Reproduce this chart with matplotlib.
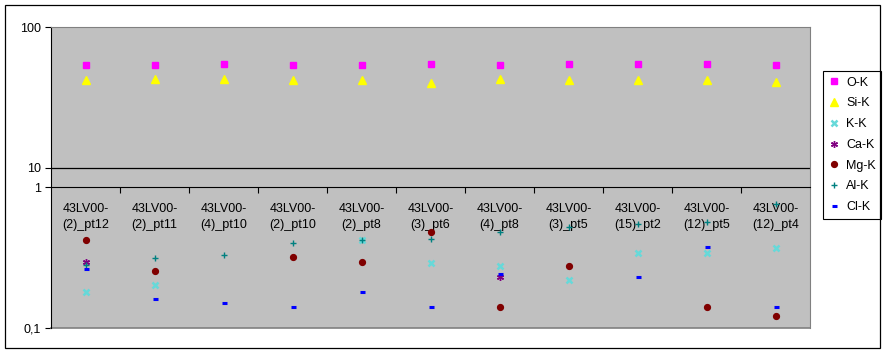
import numpy as np
import matplotlib
matplotlib.use('Agg')
import matplotlib.pyplot as plt
from matplotlib.patches import Rectangle
from matplotlib.ticker import FixedLocator, NullLocator

plt.rcParams['font.family'] = ['Liberation Sans', 'DejaVu Sans']

categories = ['43LV00-(2)_pt12', '43LV00-(2)_pt11', '43LV00-(4)_pt10', '43LV00-(2)_pt10',
              '43LV00-(2)_pt8', '43LV00-(3)_pt6', '43LV00-(4)_pt8', '43LV00-(3)_pt5',
              '43LV00-(15)_pt2', '43LV00-(12)_pt5', '43LV00-(12)_pt4']

nan = np.nan
o_k = [53.5, 53.5, 54.7, 53.5, 53.5, 54.4, 53.5, 54.4, 54.4, 54.4, 53.5]
si_k = [41.9, 43.0, 43.0, 42.3, 42.3, 40.1, 42.8, 42.1, 42.1, 42.1, 40.9]
k_k = [0.181, 0.202, nan, nan, 0.42, 0.291, 0.275, 0.219, 0.340, 0.342, 0.371]
ca_k = [0.294, nan, nan, nan, nan, nan, 0.231, nan, nan, nan, nan]
mg_k = [0.423, 0.252, nan, 0.320, 0.294, 0.477, 0.140, 0.275, nan, 0.140, 0.122]
al_k = [0.280, 0.312, 0.328, 0.399, 0.419, 0.428, 0.482, 0.518, 0.549, 0.561, 0.757]
cl_k = [0.261, 0.161, 0.151, 0.140, 0.180, 0.140, 0.241, nan, 0.231, 0.377, 0.140]

# log axis with the 1..10 decade squeezed (as in the original sheet)
squeeze = 19.0 / 141.0


def fwd(y):
    with np.errstate(divide='ignore', invalid='ignore'):
        t = np.log10(np.maximum(y, 1e-12))
    return np.where(t <= 0, t, np.where(t <= 1, squeeze * t, squeeze + (t - 1)))


def inv(u):
    return np.where(u <= 0, 10.0 ** u,
                    np.where(u <= squeeze, 10.0 ** (u / squeeze), 10.0 ** (u - squeeze + 1)))


W, H = 886, 356
fig = plt.figure(figsize=(W / 100, H / 100), dpi=100)
ax = fig.add_axes([51 / W, 1 - 328 / H, (810 - 51) / W, (328 - 27) / H])
ax.set_facecolor('#C0C0C0')

x = np.arange(len(categories))
series = [
    ('O-K', o_k, dict(marker='s', color='#FF00FF', ms=4.5)),
    ('Si-K', si_k, dict(marker='^', color='#FFFF00', ms=5.5)),
    ('K-K', k_k, dict(marker='x', color='#66D9D9', ms=4.5, mew=1.8)),
    ('Ca-K', ca_k, dict(marker=(6, 2, 0), color='#800080', ms=5, mew=1)),
    ('Mg-K', mg_k, dict(marker='o', color='#800000', ms=4.2)),
    ('Al-K', al_k, dict(marker='+', color='#008080', ms=5, mew=1)),
    ('Cl-K', cl_k, dict(marker='_', color='#0000FF', ms=3.6, mew=2.2)),
]
for name, vals, style in series:
    ax.plot(x, vals, linestyle='none', label=name, zorder=3, **style)

ax.set_yscale('function', functions=(fwd, inv))
ax.set_ylim(0.1, 100)
ax.set_xlim(-0.5, len(categories) - 0.5)

ax.yaxis.set_major_locator(FixedLocator([0.1, 1, 10, 100]))
ax.yaxis.set_minor_locator(NullLocator())
ax.set_yticklabels(['0,1', '1', '10', '100'])
ax.tick_params(axis='y', length=4, width=0.8, pad=3, labelsize=9, color='black')

ax.spines['bottom'].set_position(('data', 1))
ax.spines['bottom'].set_color('black')
ax.spines['left'].set_color('black')
for s in ['top', 'right']:
    ax.spines[s].set_color('#808080')

ax.set_xticks(x)
ax.set_xticklabels([c.replace('-', '-\n', 1) for c in categories])
ax.xaxis.set_minor_locator(FixedLocator(np.arange(0.5, len(categories) - 1, 1.0)))
ax.tick_params(axis='x', which='major', length=0, pad=11.5, labelsize=9)
ax.tick_params(axis='x', which='minor', length=4, width=0.8, direction='out', color='black')
for lbl in ax.get_xticklabels():
    lbl.set_linespacing(1.4)

ax.axhline(10, color='black', lw=0.9, zorder=2)
ax.axhline(0.1, color='#808080', lw=1.2, clip_on=False, zorder=2)

leg = ax.legend(loc='upper left', bbox_to_anchor=(823 / W, 1 - 71 / H), bbox_transform=fig.transFigure,
                borderaxespad=0, fancybox=False, edgecolor='black', framealpha=1, fontsize=9,
                handlelength=0.8, handletextpad=0.6, labelspacing=0.7, borderpad=0.45,
                numpoints=1)
leg.get_frame().set_linewidth(0.8)

fig.add_artist(Rectangle((5 / W, 1 - 348 / H), 875 / W, 343 / H, transform=fig.transFigure,
                         fill=False, edgecolor='black', lw=0.9))

fig.savefig('out.png', dpi=100)
